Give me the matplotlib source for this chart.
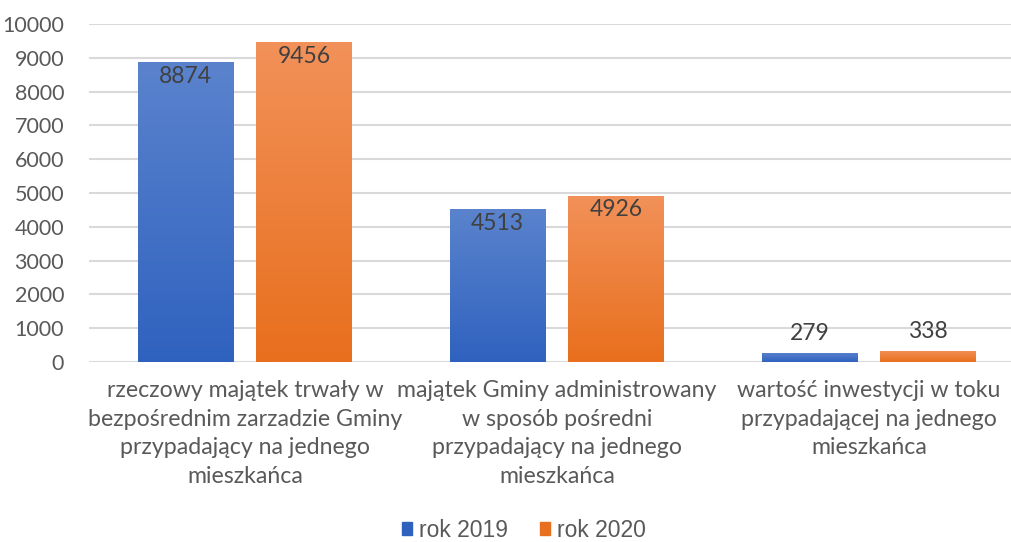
import matplotlib
matplotlib.use("Agg")
import matplotlib.pyplot as plt
import numpy as np
from matplotlib.colors import LinearSegmentedColormap
from matplotlib.patches import Patch

# data
categories = [
    "rzeczowy majątek trwały w\nbezpośrednim zarzadzie Gminy\nprzypadający na jednego\nmieszkańca",
    "majątek Gminy administrowany\nw sposób pośredni\nprzypadający na jednego\nmieszkańca",
    "wartość inwestycji w toku\nprzypadającej na jednego\nmieszkańca",
]
rok_2019 = [8874, 4513, 279]
rok_2020 = [9456, 4926, 338]
series_names = ["rok 2019", "rok 2020"]
y_ticks = [0, 1000, 2000, 3000, 4000, 5000, 6000, 7000, 8000, 9000, 10000]

# colours (top, bottom) for the gradient fill
grad_2019 = ("#5b83cd", "#2f62bf")
grad_2020 = ("#f29159", "#e86f1d")

fig = plt.figure(figsize=(10.11, 5.42), dpi=100)
ax = fig.add_axes([89 / 1011, 1 - 362 / 542, 1 - 89 / 1011, (362 - 24) / 542])

x = np.arange(len(categories))
w = 0.307
off = 0.19

bars1 = ax.bar(x - off, rok_2019, w, color=grad_2019[1], zorder=2)
bars2 = ax.bar(x + off, rok_2020, w, color=grad_2020[1], zorder=2)

# vertical gradient on each bar, clipped to the bar shape
grad = np.linspace(0, 1, 256).reshape(-1, 1)
for bars, cols in [(bars1, grad_2019), (bars2, grad_2020)]:
    cmap = LinearSegmentedColormap.from_list("g", [cols[1], cols[0]])
    for b in bars:
        x0, y0 = b.get_x(), b.get_y()
        im = ax.imshow(grad, cmap=cmap, aspect="auto", origin="lower",
                       extent=[x0, x0 + b.get_width(), y0, y0 + b.get_height()],
                       zorder=3)
        im.set_clip_path(b)

# data labels: inside end for tall bars, above for small ones
for bars, vals in [(bars1, rok_2019), (bars2, rok_2020)]:
    for b, v in zip(bars, vals):
        cx = b.get_x() + b.get_width() / 2
        if v > 1000:
            ax.text(cx, v - 420, str(v), ha="center", va="center", fontsize=16.5,
                    color="#404040", family="Lato", zorder=4)
        else:
            ax.text(cx, v + 250, str(v), ha="center", va="bottom", fontsize=16.5,
                    color="#404040", family="Lato", zorder=4)

ax.set_xlim(-0.5, (1011 - 245) / 312)
ax.set_ylim(0, 10000)
ax.set_yticks(y_ticks)
ax.set_yticklabels([str(t) for t in y_ticks], fontsize=15.5, color="#595959", family="Lato")
ax.set_xticks(x)
ax.set_xticklabels(categories, fontsize=16.7, color="#595959", family="Lato", linespacing=1.45)
ax.tick_params(axis="both", length=0)
ax.tick_params(axis="y", pad=18)
ax.tick_params(axis="x", pad=13)

ax.grid(axis="y", color="#d9d9d9", linewidth=1.5, zorder=0)
for s in ax.spines.values():
    s.set_visible(False)

handles = [Patch(color=grad_2019[1]), Patch(color=grad_2020[1])]
fig.legend(handles, series_names, loc="center", bbox_to_anchor=(0.518, 0.022),
           ncol=2, frameon=False, prop={"family": "Liberation Sans", "size": 16.5},
           labelcolor="#595959", handlelength=0.45, handleheight=0.45,
           handletextpad=0.3, columnspacing=1.4)

fig.savefig("out.png", dpi=100)
